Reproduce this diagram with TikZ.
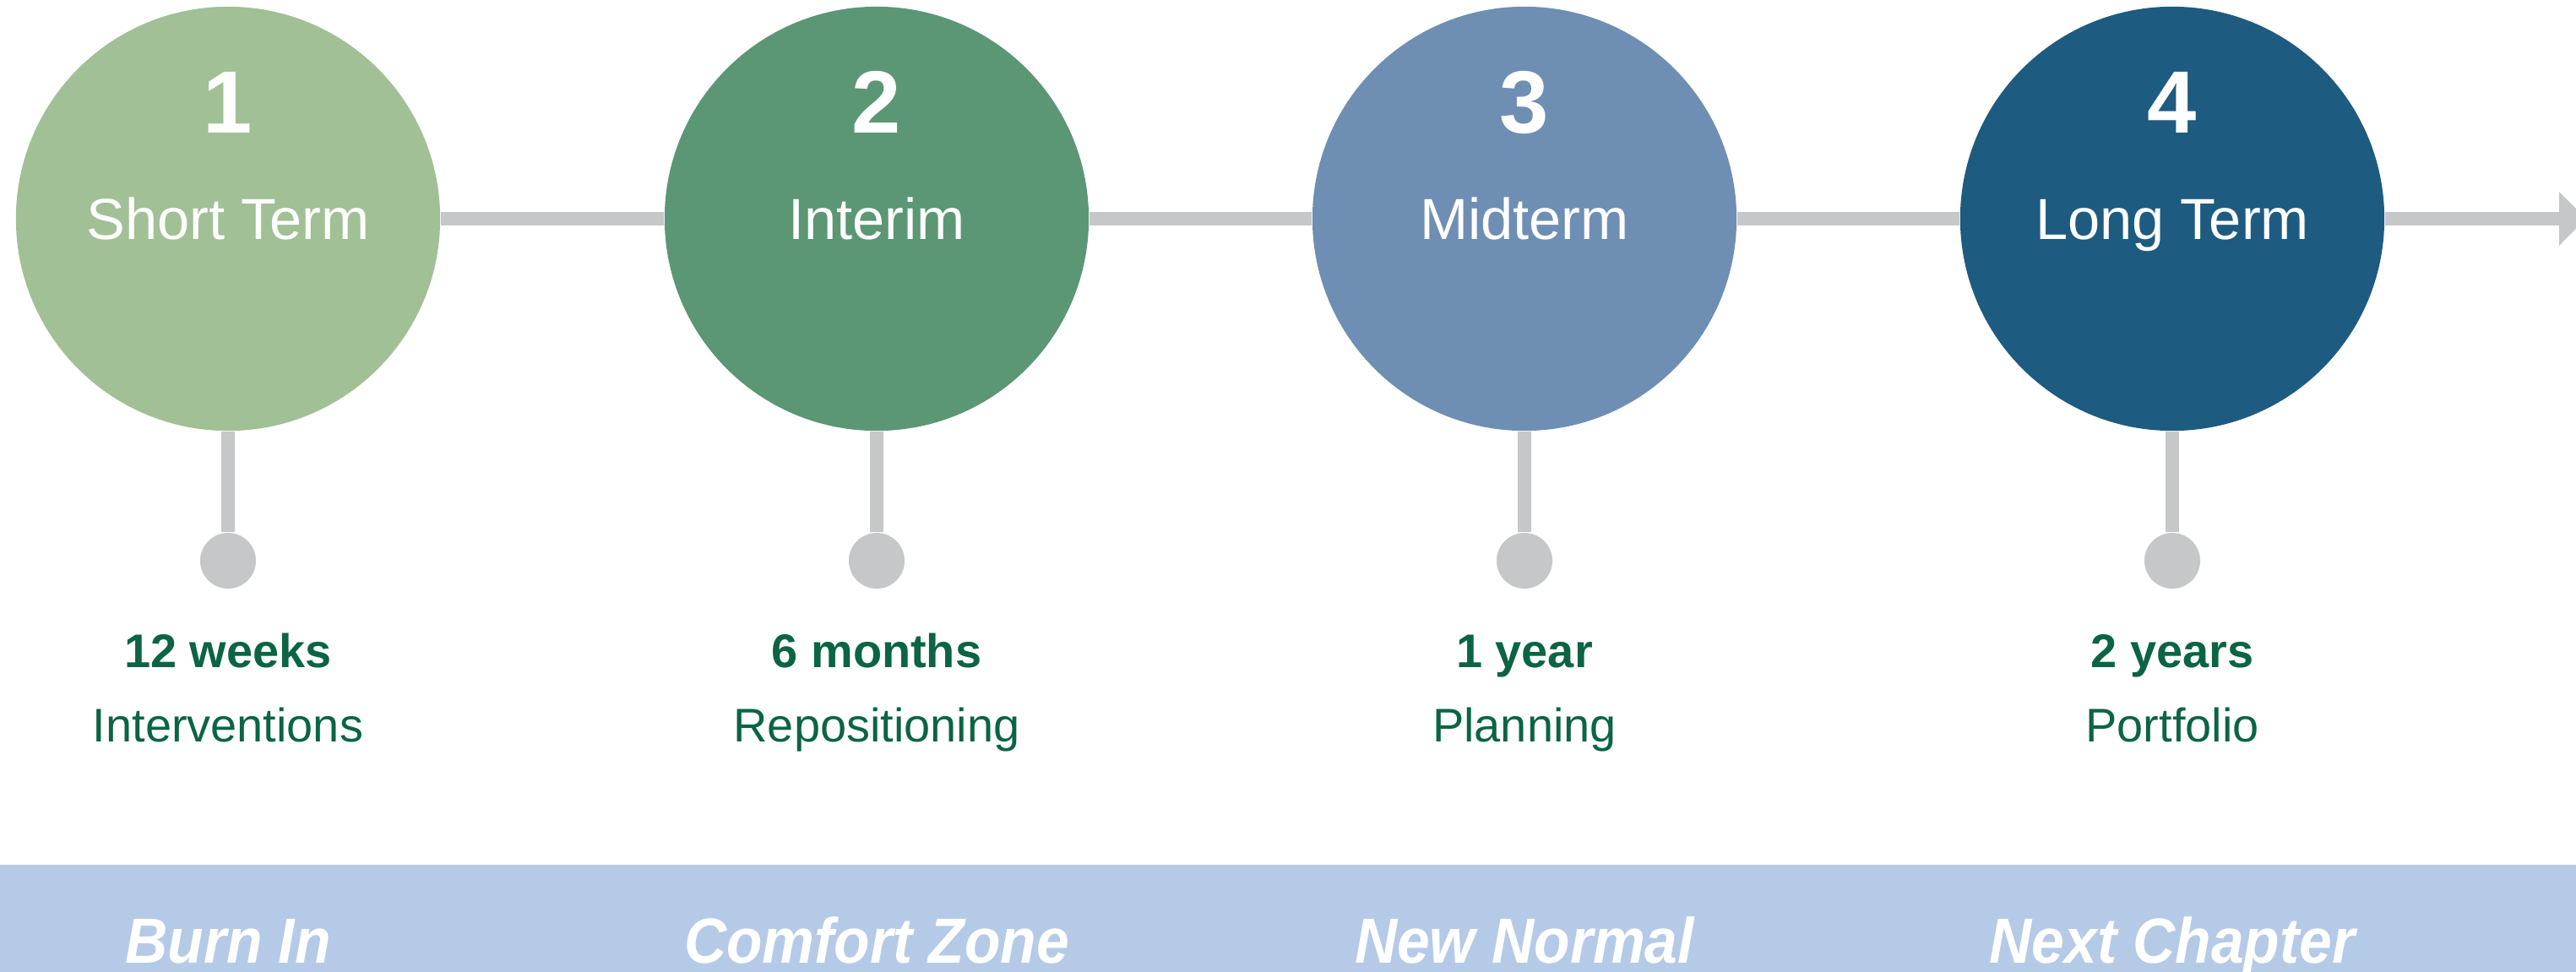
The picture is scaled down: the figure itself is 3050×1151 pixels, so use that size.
\documentclass[tikz,border=0pt]{standalone}
\usepackage{fontspec}
\setmainfont{Liberation Sans}
\usetikzlibrary{arrows.meta}
\definecolor{cone}{HTML}{A1C095}
\definecolor{ctwo}{HTML}{5B9774}
\definecolor{cthree}{HTML}{6E8FB3}
\definecolor{cfour}{HTML}{1E5B80}
\definecolor{linegray}{HTML}{C6C7C9}
\definecolor{tgreen}{HTML}{0B6443}
\definecolor{bandblue}{HTML}{B5CAE7}
\begin{document}
\begin{tikzpicture}[x=0.01cm,y=-0.01cm,
  stage/.style={circle,minimum size=5.02cm,inner sep=0pt},
  bar/.style={draw=linegray,line width=0.16cm},
  dot/.style={circle,fill=linegray,minimum size=0.66cm,inner sep=0pt},
  num/.style={anchor=base,text=white,inner sep=0pt,font=\fontsize{29.8}{30}\selectfont\bfseries},
  ttl/.style={anchor=base,text=white,inner sep=0pt,font=\fontsize{19.5}{20}\selectfont},
  when/.style={anchor=base,text=tgreen,inner sep=0pt,font=\fontsize{15.9}{16}\selectfont\bfseries},
  what/.style={anchor=base,text=tgreen,inner sep=0pt,font=\fontsize{15.9}{16}\selectfont},
  phase/.style={anchor=base,text=white,inner sep=0pt,font=\fontsize{21.5}{22}\selectfont\bfseries\itshape}]
\useasboundingbox (0,0) rectangle (3050,1151);
\clip (0,0) rectangle (3050,1151);
% band
\fill[bandblue] (0,1024) rectangle (3050,1151);
% circles
\node[stage,fill=cone]   (c1) at (270,259) {};
\node[stage,fill=ctwo]   (c2) at (1038,259) {};
\node[stage,fill=cthree] (c3) at (1805,259) {};
\node[stage,fill=cfour]  (c4) at (2572,259) {};
% dots
\node[dot] (d1) at (270,664) {};
\node[dot] (d2) at (1038,664) {};
\node[dot] (d3) at (1805,664) {};
\node[dot] (d4) at (2572,664) {};
\coordinate (arrowend) at (3062,259);
% connectors
\draw[bar] (c1.east) -- (c2.west);
\draw[bar] (c2.east) -- (c3.west);
\draw[bar] (c3.east) -- (c4.west);
\draw[bar,-{Triangle[length=0.32cm,width=0.62cm]}] (c4.east) -- (arrowend);
\draw[bar] (c1.south) -- (d1);
\draw[bar] (c2.south) -- (d2);
\draw[bar] (c3.south) -- (d3);
\draw[bar] (c4.south) -- (d4);
% texts in circles
\node[num] (n1) at (270,157) {1};
\node[num] (n2) at (1038,157) {2};
\node[num] (n3) at (1805,157) {3};
\node[num] (n4) at (2572,157) {4};
\node[ttl] (t1) at (270,283) {Short Term};
\node[ttl] (t2) at (1038,283) {Interim};
\node[ttl] (t3) at (1805,283) {Midterm};
\node[ttl] (t4) at (2572,283) {Long Term};
% labels
\node[when] (w1) at (270,790) {12 weeks};
\node[when] (w2) at (1038,790) {6 months};
\node[when] (w3) at (1805,790) {1 year};
\node[when] (w4) at (2572,790) {2 years};
\node[what] (a1) at (270,878) {Interventions};
\node[what] (a2) at (1038,878) {Repositioning};
\node[what] (a3) at (1805,878) {Planning};
\node[what] (a4) at (2572,878) {Portfolio};
% phases
\node[phase] (p1) at (270,1140) {\scalebox{0.92}[1]{Burn In}};
\node[phase] (p2) at (1038,1140) {\scalebox{0.92}[1]{Comfort Zone}};
\node[phase] (p3) at (1805,1140) {\scalebox{0.92}[1]{New Normal}};
\node[phase] (p4) at (2572,1140) {\scalebox{0.92}[1]{Next Chapter}};
\end{tikzpicture}
\end{document}
